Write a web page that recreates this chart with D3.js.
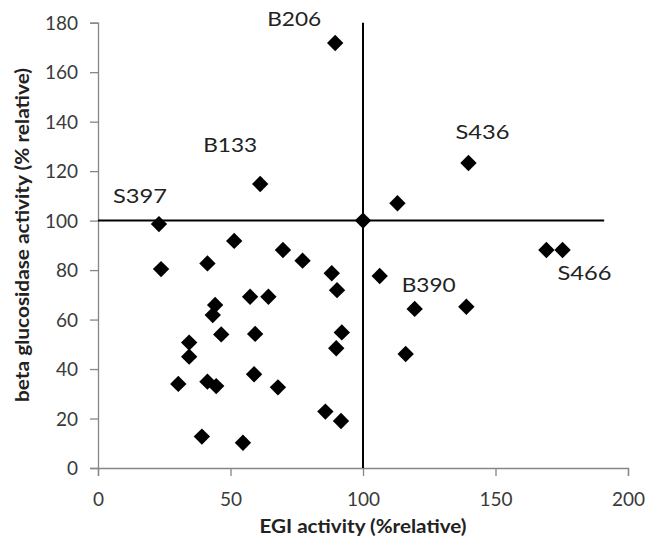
<!DOCTYPE html>
<html>
<head>
<meta charset="utf-8">
<script src="https://cdn.jsdelivr.net/npm/d3@7"></script>
<style>
  body { margin: 0; background: #fff; }
  text { font-family: Lato, "Open Sans", sans-serif; }
</style>
</head>
<body>
<div id="chart"></div>
<script>
// EGI activity (% relative) per strain
const egi = [89.5, 139.8, 113, 100, 61.2, 23, 23.8, 51.4, 41.3, 69.8,
  77.2, 57.4, 64.3, 44.2, 43.3, 46.5, 59.3, 34.4, 34.4, 30.3,
  41.3, 44.6, 58.9, 67.9, 39.2, 54.7, 85.8, 91.7, 89.9, 92,
  90.2, 88.2, 106.3, 119.5, 139, 116.1, 169.2, 175.3];
// beta glucosidase activity (% relative)
const bglu = [171.8, 123.3, 107, 100, 114.8, 98.6, 80.4, 91.8, 82.7, 88.1,
  83.8, 69.2, 69.2, 65.9, 61.8, 54, 54.2, 50.7, 45, 34,
  34.9, 33.1, 37.9, 32.6, 12.7, 10.2, 22.8, 19, 48.4, 54.8,
  71.9, 78.7, 77.6, 64.3, 65.2, 46.1, 88.1, 88.1];

// labelled strains: index into the arrays above
const labelNames = ['B206', 'S436', 'B133', 'S397', 'B390', 'S466'];
const labelIdx = [0, 1, 4, 5, 33, 37];
const labelDx = [-41, 14, -30, -19, 14, 22];
const labelDy = [-17, -24, -32, -21, -17, 30];

const xTicks = [0, 50, 100, 150, 200];
const yTicks = [0, 20, 40, 60, 80, 100, 120, 140, 160, 180];

// reference lines at 100 %
const vLineY = [0, 180];
const hLineX = [0, 191];

const width = 646, height = 543;
const margin = { left: 98, right: 18, top: 22.7, bottom: 75 };

const svg = d3.select('#chart').append('svg')
  .attr('width', width)
  .attr('height', height);

const x = d3.scaleLinear().domain([0, 200]).range([margin.left, width - margin.right]);
const y = d3.scaleLinear().domain([0, 180]).range([height - margin.bottom, margin.top]);

// axes
const xAxis = svg.append('g')
  .attr('transform', `translate(0,${y(0)})`)
  .call(d3.axisBottom(x).tickValues(xTicks).tickSize(8).tickPadding(12));
const yAxis = svg.append('g')
  .attr('transform', `translate(${x(0)},0)`)
  .call(d3.axisLeft(y).tickValues(yTicks).tickSize(8).tickPadding(12));

[xAxis, yAxis].forEach(a => {
  a.select('.domain').attr('stroke', '#868686').attr('stroke-width', 1.3);
  a.selectAll('.tick line').attr('stroke', '#868686').attr('stroke-width', 1.3);
  a.selectAll('.tick text')
    .attr('fill', '#3a3a3a')
    .style('font-size', '19px')
    .style('font-family', 'Lato, sans-serif');
});
yAxis.selectAll('.tick text').attr('dy', '0.35em');
xAxis.selectAll('.tick text').attr('dy', '0.95em');

// reference lines
svg.append('line')
  .attr('x1', x(100)).attr('x2', x(100))
  .attr('y1', y(vLineY[0])).attr('y2', y(vLineY[1]))
  .attr('stroke', '#000').attr('stroke-width', 2);
svg.append('line')
  .attr('x1', x(hLineX[0])).attr('x2', x(hLineX[1]))
  .attr('y1', y(100)).attr('y2', y(100))
  .attr('stroke', '#000').attr('stroke-width', 2);

// diamonds
const diamond = d3.symbol().type(d3.symbolSquare).size(134);
svg.append('g').selectAll('path')
  .data(egi.map((v, i) => [v, bglu[i]]))
  .join('path')
  .attr('d', diamond)
  .attr('transform', d => `translate(${x(d[0])},${y(d[1])}) rotate(45)`)
  .attr('fill', '#000');

// strain labels
svg.append('g').selectAll('text')
  .data(labelNames)
  .join('text')
  .attr('x', (d, i) => x(egi[labelIdx[i]]) + labelDx[i])
  .attr('y', (d, i) => y(bglu[labelIdx[i]]) + labelDy[i])
  .attr('text-anchor', 'middle')
  .attr('fill', '#222')
  .attr('textLength', 54)
  .attr('lengthAdjust', 'spacingAndGlyphs')
  .style('font-size', '20px')
  .text(d => d);

// axis titles
svg.append('text')
  .attr('x', 363)
  .attr('y', 533)
  .attr('text-anchor', 'middle')
  .attr('textLength', 207)
  .attr('lengthAdjust', 'spacingAndGlyphs')
  .style('font-size', '18px')
  .style('font-weight', 'bold')
  .attr('fill', '#222')
  .text('EGI activity (%relative)');

svg.append('text')
  .attr('transform', 'translate(29,235) rotate(-90)')
  .attr('text-anchor', 'middle')
  .attr('textLength', 334)
  .attr('lengthAdjust', 'spacingAndGlyphs')
  .style('font-size', '18px')
  .style('font-weight', 'bold')
  .attr('fill', '#222')
  .text('beta glucosidase activity (% relative)');
</script>
</body>
</html>
